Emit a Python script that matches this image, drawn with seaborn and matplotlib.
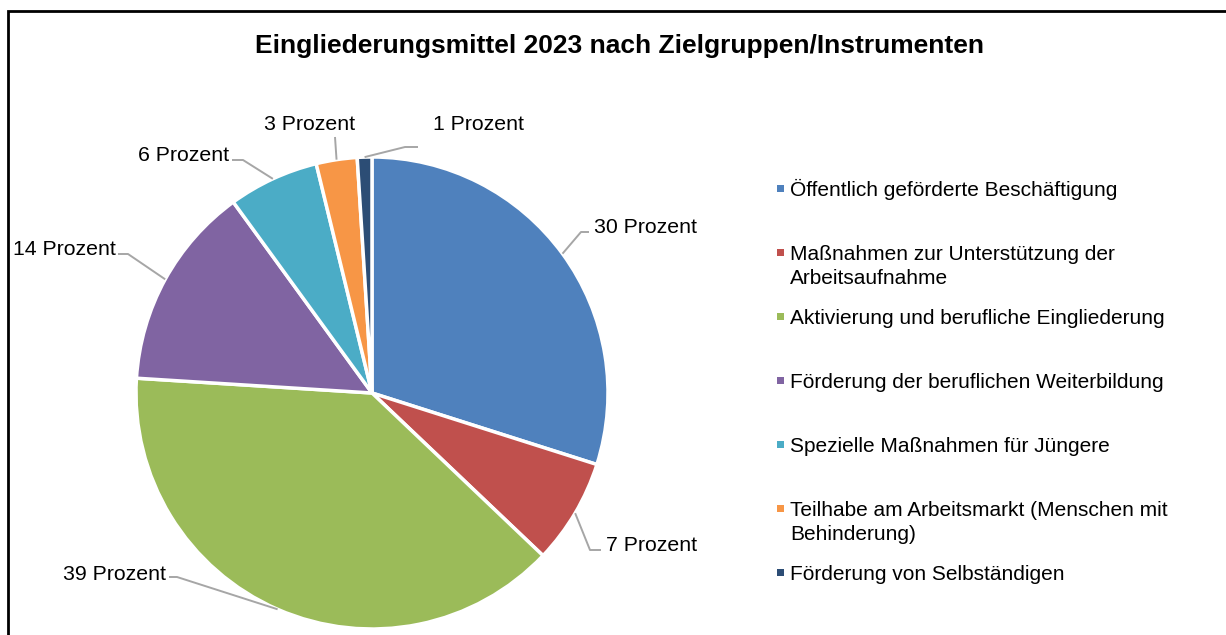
import numpy as np
import matplotlib
matplotlib.use("Agg")
import matplotlib.pyplot as plt
import seaborn as sns
from matplotlib.patches import Rectangle

# ---------------- data ----------------
title = "Eingliederungsmittel 2023 nach Zielgruppen/Instrumenten"
categories = [
    "Öffentlich geförderte Beschäftigung",
    "Maßnahmen zur Unterstützung der\nArbeitsaufnahme",
    "Aktivierung und berufliche Eingliederung",
    "Förderung der beruflichen Weiterbildung",
    "Spezielle Maßnahmen für Jüngere",
    "Teilhabe am Arbeitsmarkt (Menschen mit\nBehinderung)",
    "Förderung von Selbständigen",
]
shares = [29.9, 7.2, 38.9, 14.0, 6.2, 2.8, 1.0]
value_labels = [f"{v:.0f} Prozent" for v in shares]
colors_hex = ["#4F81BD", "#C0504D", "#9BBB59", "#8064A2", "#4BACC6", "#F79646", "#2C4D75"]

# ---------------- layout (pixels) ----------------
W, H = 1226, 635
CX, CY, R = 372, 393, 236
label_layout = [
    dict(elbow=(581, 232), end=(589, 232), text=(594, 233), ha="left"),
    dict(elbow=(590, 550), end=(601, 550), text=(606, 551), ha="left"),
    dict(elbow=(177, 577), end=(169, 577), text=(166, 580), ha="right"),
    dict(elbow=(128, 254), end=(118, 254), text=(116, 255), ha="right"),
    dict(elbow=(243, 160), end=(232, 160), text=(229, 161), ha="right"),
    dict(elbow=(335, 137), end=(335, 137), text=(310, 130), ha="center"),
    dict(elbow=(405, 147), end=(418, 147), text=(433, 130), ha="left"),
]

sns.set_theme(style="white")
plt.rcParams["font.family"] = ["Liberation Sans", "DejaVu Sans"]
palette = sns.color_palette(colors_hex)


def to_data(x, y):
    return (x - CX) / R, (CY - y) / R


def to_fig(x, y):
    return x / W, 1 - y / H


fig = plt.figure(figsize=(W / 100, H / 100), dpi=100)
fig.patch.set_facecolor("white")
ax = fig.add_axes([0, 0, 1, 1])
wedges, _ = ax.pie(shares, colors=palette, startangle=90, counterclock=False,
                   radius=1, wedgeprops=dict(edgecolor="white", linewidth=2.5))
ax.set_aspect("auto")
ax.set_xlim(-CX / R, (W - CX) / R)
ax.set_ylim(-(H - CY) / R, CY / R)
ax.axis("off")

# data labels with leader lines
for w, lab, lay in zip(wedges, value_labels, label_layout):
    th = np.deg2rad((w.theta1 + w.theta2) / 2)
    ex, ey = np.cos(th), np.sin(th)
    elx, ely = to_data(*lay["elbow"])
    enx, eny = to_data(*lay["end"])
    ax.plot([ex, elx, enx], [ey, ely, eny], color="#A6A6A6", lw=1.4,
            solid_capstyle="butt", zorder=1)
    tx, ty = to_data(*lay["text"])
    ax.text(tx, ty, lab, ha=lay["ha"], va="baseline", fontsize=15.3, color="black")

# title
fx, fy = to_fig(619, 53)
fig.text(fx, fy, title, ha="center", va="baseline", fontsize=19,
         fontweight="bold", color="black")

# legend (manual, evenly spaced markers)
for i, (cat, col) in enumerate(zip(categories, palette)):
    my = 188 + 64 * i
    x0, y0 = to_fig(777, my + 3.5)
    fig.patches.append(Rectangle((x0, y0), 7 / W, 7 / H, transform=fig.transFigure,
                                 facecolor=col, edgecolor="none"))
    for j, line in enumerate(cat.split("\n")):
        lx, ly = to_fig(790, my + 8 + 24 * j)
        fig.text(lx, ly, line, ha="left", va="baseline", fontsize=15, color="black")

# outer border (left and top edges visible; right/bottom run off the image)
bx, by = to_fig(8, H + 20)
fig.patches.append(Rectangle((bx, by), (W + 40) / W, (H + 20 - 11) / H,
                             transform=fig.transFigure, facecolor="none",
                             edgecolor="black", linewidth=2, clip_on=False))

fig.savefig("out.png", dpi=100)
